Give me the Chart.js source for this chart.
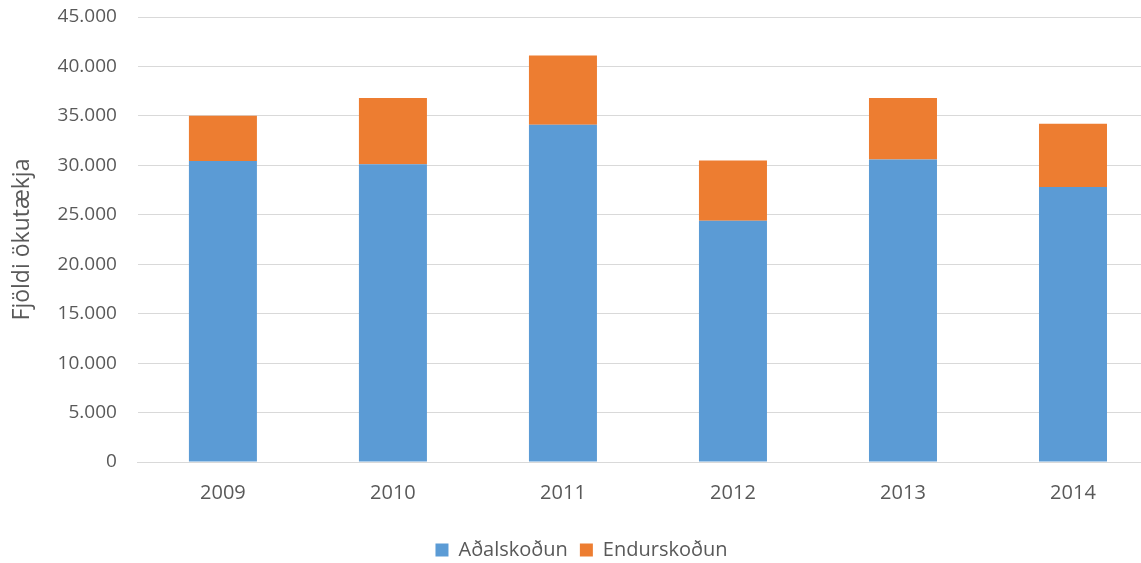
<!DOCTYPE html>
<html>
<head>
<meta charset="utf-8">
<script src="https://cdn.jsdelivr.net/npm/chart.js@4/dist/chart.umd.min.js"></script>
<style>
  html, body { margin: 0; padding: 0; background: #fff; overflow: hidden; }
  #wrap { width: 1158px; height: 570px; }
</style>
</head>
<body>
<div id="wrap"><canvas id="skodanir"></canvas></div>
<script>
    "use strict";

    // gogn lesin af myndinni
    var years = ["2009", "2010", "2011", "2012", "2013", "2014"];
    var adalskodun = [30450, 30100, 34100, 24400, 30600, 27800];
    var endurskodun = [4570, 6700, 7000, 6100, 6200, 6400];
    var yTicks = [0, 5000, 10000, 15000, 20000, 25000, 30000, 35000, 40000, 45000];

    var grey = "#595959";
    var fontFam = "'Open Sans', 'Noto Sans', sans-serif";
    var plotTop = 17, plotBottom = 462;

    function punktur(v) {
        return String(v).replace(/\B(?=(\d{3})+(?!\d))/g, ".");
    }

    var ctx = document.getElementById("skodanir");
    var myChart = new Chart(ctx, {
        type: 'bar',
        data: {
            labels: years,
            datasets: [{
                label: "Aðalskoðun",
                data: adalskodun,
                backgroundColor: "#5B9BD5",
                barPercentage: 0.8,
                categoryPercentage: 0.5
            }, {
                label: "Endurskoðun",
                data: endurskodun,
                backgroundColor: "#ED7D31",
                barPercentage: 0.8,
                categoryPercentage: 0.5
            }]
        },
        options: {
            responsive: true,
            maintainAspectRatio: false,
            animation: false,
            layout: { padding: { top: 0, left: 5, right: 0, bottom: 0 } },
            plugins: {
                legend: {
                    position: 'bottom',
                    labels: {
                        boxWidth: 13,
                        boxHeight: 13,
                        color: grey,
                        font: { family: fontFam, size: 20 },
                        padding: 12
                    }
                },
                tooltip: { enabled: false }
            },
            scales: {
                x: {
                    stacked: true,
                    grid: { display: false },
                    border: { color: "#d9d9d9" },
                    ticks: { color: grey, font: { family: fontFam, size: 20 }, padding: 11 },
                    afterFit: function (axis) {
                        // x-asinn fyllir bilid nidur ad skyringunum
                        var lg = axis.chart.legend;
                        if (lg && lg.top > plotBottom) axis.height = lg.top - plotBottom;
                    }
                },
                y: {
                    stacked: true,
                    min: 0,
                    max: 45000,
                    afterBuildTicks: function (axis) {
                        axis.ticks = yTicks.map(function (v) { return { value: v }; });
                    },
                    afterFit: function (axis) {
                        axis.paddingTop = plotTop;
                        axis.paddingBottom = 0;
                    },
                    grid: { color: "#d9d9d9", drawTicks: false },
                    border: { display: false },
                    ticks: {
                        color: grey,
                        font: { family: fontFam, size: 19 },
                        padding: 21,
                        callback: function (v) { return punktur(v); }
                    },
                    title: {
                        display: true,
                        text: "Fjöldi ökutækja",
                        color: grey,
                        font: { family: fontFam, size: 23 },
                        padding: { bottom: 0 }
                    }
                }
            }
        }
    });
    myChart.update();
</script>
</body>
</html>
